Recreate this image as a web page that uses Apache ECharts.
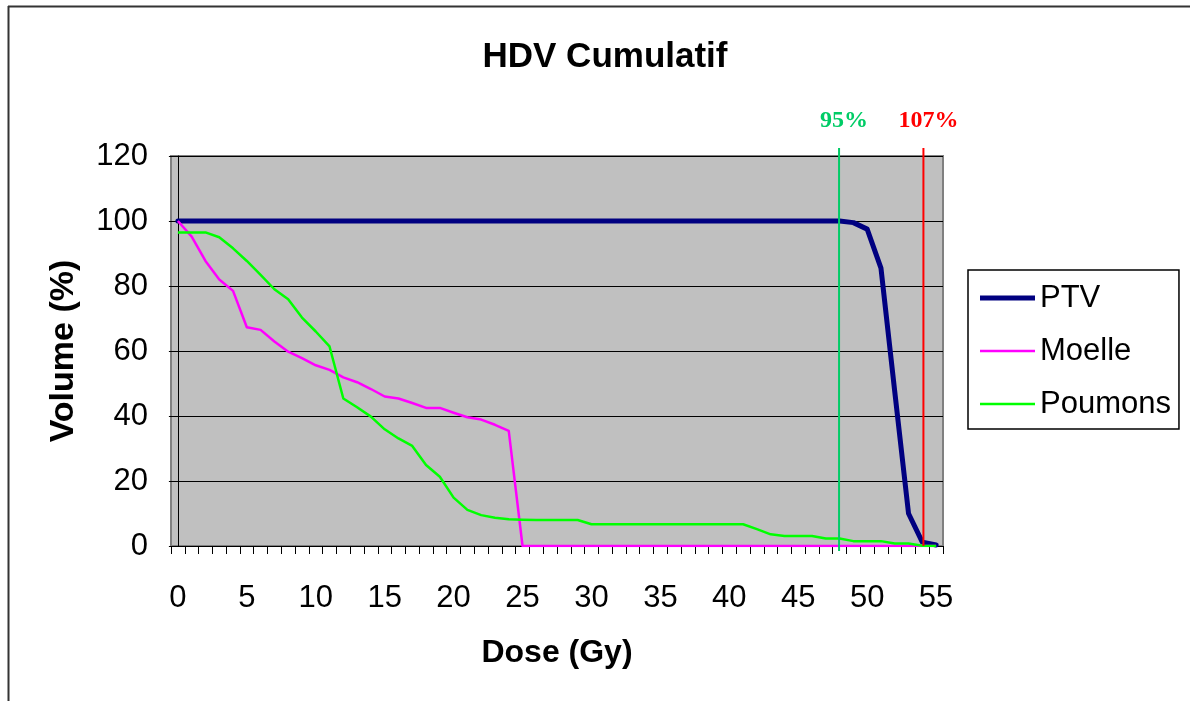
<!DOCTYPE html>
<html>
<head>
<meta charset="utf-8">
<script src="https://cdn.jsdelivr.net/npm/echarts@6/dist/echarts.min.js"></script>
<style>
html,body{margin:0;padding:0;background:#fff;}
#chart{width:1190px;height:701px;}
</style>
</head>
<body>
<div id="chart"></div>
<script>
// ---- Data ----
const doseLabels = ['0','1','2','3','4','5','6','7','8','9','10','11','12','13','14','15','16','17','18','19','20',
  '21','22','23','24','25','26','27','28','29','30','31','32','33','34','35','36','37','38','39','40',
  '41','42','43','44','45','46','47','48','49','50','51','52','53','54','55'];

const ptv = [100,100,100,100,100,100,100,100,100,100,
  100,100,100,100,100,100,100,100,100,100,
  100,100,100,100,100,100,100,100,100,100,
  100,100,100,100,100,100,100,100,100,100,
  100,100,100,100,100,100,100,100,100,99.5,
  97.5,85.5,47.5,10,1.2,0.3];

const moelle = [100,95.2,87.7,82,78.5,67.3,66.5,62.9,59.8,57.8,
  55.6,54.2,51.9,50.4,48.3,46,45.4,44,42.5,42.5,
  41,39.6,38.9,37.3,35.4,0,0,0,0,0,
  0,0,0,0,0,0,0,0,0,0,
  0,0,0,0,0,0,0,0,0,0,
  0,0,0,0,0,0];

const poumons = [96.5,96.5,96.5,95,91.6,87.7,83.4,79,75.9,70.3,
  66,61.4,45.4,42.7,39.8,35.9,33.1,30.8,24.9,21.3,
  14.9,11.1,9.5,8.7,8.2,8.1,8,8,8,8,
  6.7,6.7,6.7,6.7,6.7,6.7,6.7,6.7,6.7,6.7,
  6.7,6.7,5.2,3.6,3.1,3.1,3.1,2.3,2.3,1.5,
  1.5,1.5,0.8,0.8,0.1,0];

const yTicks = [0,20,40,60,80,100,120];

// reference dose lines (Gy) and their labels
const refDoses = [47.96, 54.08];
const refLabels = ['95%', '107%'];

// ---- Styles ----
const refColors = ['#00CC66', '#FF0000'];
const refExtendBelow = [5, 0];
const FONT = '"Liberation Sans", Arial, sans-serif';

const chart = echarts.init(document.getElementById('chart'));

const refData = refDoses.map((d, i) => [d, 0, refLabels[i], i]);

const option = {
  animation: false,
  backgroundColor: '#ffffff',
  title: {
    text: 'HDV Cumulatif',
    left: 600,
    top: 35,
    textAlign: 'center',
    textStyle: { fontFamily: FONT, fontSize: 35, fontWeight: 'bold', color: '#000' }
  },
  legend: {
    orient: 'vertical',
    left: 968,
    top: 270,
    padding: [12, 8, 9, 12],
    itemGap: 21,
    itemWidth: 55,
    itemHeight: 14,
    symbolKeepAspect: true,
    borderColor: '#000',
    borderWidth: 1.5,
    backgroundColor: '#fff',
    textStyle: { fontFamily: FONT, fontSize: 31, color: '#000', lineHeight: 32 },
    data: [
      { name: 'PTV', icon: 'path://M0,0H55V5H0Z' },
      { name: 'Moelle', icon: 'path://M0,0H55V2.5H0Z' },
      { name: 'Poumons', icon: 'path://M0,0H55V2.5H0Z' }
    ]
  },
  grid: {
    left: 171, top: 156, width: 772, height: 390,
    show: true,
    backgroundColor: '#C0C0C0',
    borderColor: '#808080',
    borderWidth: 2
  },
  xAxis: [{
    type: 'category',
    data: doseLabels,
    boundaryGap: true,
    name: 'Dose (Gy)',
    nameLocation: 'middle',
    nameGap: 91,
    nameTextStyle: { fontFamily: FONT, fontSize: 32, fontWeight: 'bold', color: '#000' },
    axisLine: { show: true, lineStyle: { color: '#000', width: 1 } },
    axisTick: { show: true, interval: 0, length: 8, lineStyle: { color: '#000', width: 1 } },
    axisLabel: { interval: 4, margin: 37, fontFamily: FONT, fontSize: 31, color: '#000' },
    splitLine: { show: false }
  }, {
    type: 'value',
    min: -0.5,
    max: 55.5,
    show: false,
    gridIndex: 0
  }],
  yAxis: {
    type: 'value',
    min: 0,
    max: 120,
    interval: 20,
    name: 'Volume (%)',
    nameLocation: 'middle',
    nameRotate: 90,
    nameGap: 90,
    nameTextStyle: { fontFamily: FONT, fontSize: 34, fontWeight: 'bold', color: '#000' },
    axisLine: { show: true, lineStyle: { color: '#000', width: 1 } },
    axisTick: { show: true, length: 9, lineStyle: { color: '#000', width: 1 } },
    axisLabel: {
      margin: 23, fontFamily: FONT, fontSize: 31, color: '#000',
      formatter: v => yTicks.indexOf(v) >= 0 ? String(v) : ''
    },
    splitLine: { show: true, lineStyle: { color: '#000', width: 1 } }
  },
  series: [
    {
      name: 'PTV', type: 'line', data: ptv, symbol: 'none',
      xAxisIndex: 0,
      lineStyle: { color: '#000080', width: 5, join: 'round', cap: 'round' },
      itemStyle: { color: '#000080' }, z: 2
    },
    {
      name: 'Moelle', type: 'line', data: moelle, symbol: 'none',
      xAxisIndex: 0,
      lineStyle: { color: '#FF00FF', width: 2.5, join: 'round' },
      itemStyle: { color: '#FF00FF' }, z: 3
    },
    {
      name: 'Poumons', type: 'line', data: poumons, symbol: 'none',
      xAxisIndex: 0,
      lineStyle: { color: '#00FF00', width: 2.5, join: 'round' },
      itemStyle: { color: '#00FF00' }, z: 4
    },
    {
      name: 'ref', type: 'custom', xAxisIndex: 1, yAxisIndex: 0,
      clip: false, z: 5,
      data: refData,
      encode: { x: 0, y: 1 },
      renderItem: function (params, api) {
        const idx = api.value(3);
        const x = api.coord([api.value(0), 0])[0];
        const yTop = api.coord([api.value(0), 120])[1];
        const yBot = api.coord([api.value(0), 0])[1];
        const color = refColors[idx];
        return {
          type: 'group',
          children: [
            {
              type: 'line',
              shape: { x1: x, y1: yTop - 8, x2: x, y2: yBot + refExtendBelow[idx] },
              style: { stroke: color, lineWidth: 2 }
            },
            {
              type: 'text',
              style: {
                text: refLabels[idx],
                x: x + 5, y: yTop - 35,
                textAlign: 'center', textVerticalAlign: 'middle',
                fill: color,
                font: 'bold 24px "Liberation Serif", "Times New Roman", serif'
              }
            }
          ]
        };
      }
    }
  ],
  graphic: [
    { type: 'line', shape: { x1: 8.5, y1: 6, x2: 8.5, y2: 701 }, style: { stroke: '#333', lineWidth: 2 } },
    { type: 'line', shape: { x1: 8, y1: 6.5, x2: 1190, y2: 6.5 }, style: { stroke: '#333', lineWidth: 2 } }
  ]
};

chart.setOption(option);
</script>
</body>
</html>
